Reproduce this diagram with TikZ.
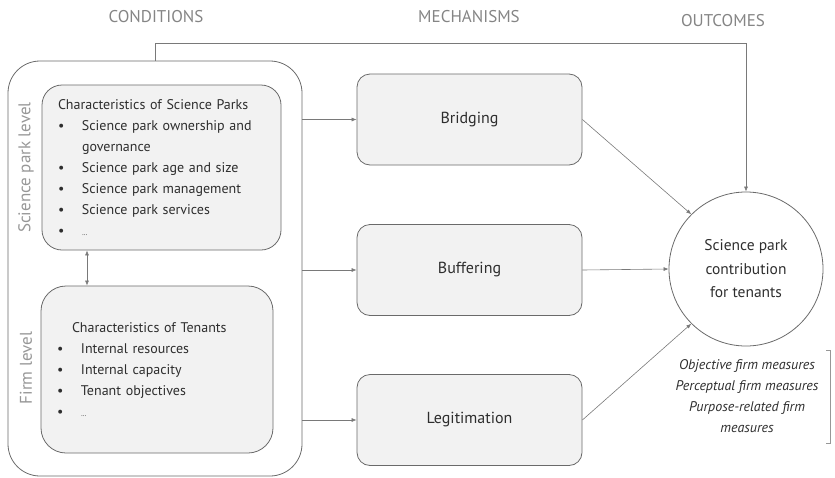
\documentclass[tikz,border=0pt]{standalone}
\usepackage{fontspec}
\setmainfont{PT Sans}
\usepackage{xcolor}
\usepackage{tikz}
\usetikzlibrary{calc}
\usetikzlibrary{arrows.meta}
\definecolor{boxgray}{HTML}{F2F2F2}
\definecolor{linegray}{HTML}{6A6A6A}
\definecolor{textgray}{HTML}{2E2E2E}
\definecolor{headgray}{HTML}{858585}
\newcommand{\itm}[1]{\makebox[24pt][l]{\textbullet}#1}
\newcommand{\etc}{{\scriptsize\ldots}}

\begin{document}
\begin{tikzpicture}[x=1pt, y=-1pt]

		\tikzstyle{head}  = [text=headgray, font=\fontsize{17}{20}\selectfont]
		\tikzstyle{level} = [text=headgray!85, font=\fontsize{17}{20}\selectfont, rotate=90]
		\tikzstyle{group} = [draw=linegray, fill=boxgray, line width=0.8pt, align=left, text=textgray, inner xsep=16pt, font=\fontsize{14}{21}\selectfont]
		\tikzstyle{mech}  = [draw=linegray, fill=boxgray, line width=0.8pt, rounded corners=13pt, minimum width=225pt, minimum height=91pt, text=textgray, font=\fontsize{16}{20}\selectfont]
		\tikzstyle{arr}   = [draw=linegray!90, line width=0.6pt, -{Latex[length=5pt,width=4pt]}]
		\useasboundingbox (0,0) rectangle (835,477);
		\node [head](cond) at (156,17) {CONDITIONS};
		\node [head](mechs) at (469,17) {MECHANISMS};
		\node [head](outc) at (723,21) {OUTCOMES};
		\node [draw=linegray, line width=0.8pt, rounded corners=32pt, minimum width=294pt, minimum height=415pt](outer) at (155,268.5) {};
		\node [level](splevel) at (26,167.5) {Science park level};
		\node [level](firmlevel) at (26,368) {Firm level};
		\node [group, rounded corners=20pt, text width=207pt, minimum height=165pt](sp) at (161.5,167.5) {\mbox{Characteristics of Science Parks}\\
			\itm{Science park ownership and}\\
			\hspace*{24pt}governance\\
			\itm{Science park age and size}\\
			\itm{Science park management}\\
			\itm{Science park services}\\
			\itm{\etc}};
		\node [group, rounded corners=25pt, text width=200pt, minimum height=167pt](ten) at (157,369.5) {\hspace*{15pt}Characteristics of Tenants\\
			\itm{Internal resources}\\
			\itm{Internal capacity}\\
			\itm{Tenant objectives}\\
			\itm{\etc}};
		\node [mech](bridge) at (469.5,119.5) {Bridging};
		\node [mech](buffer) at (469.5,270) {Buffering};
		\node [mech](legit) at (469.5,420) {Legitimation};
		\node [circle, draw=linegray, line width=0.8pt, minimum size=154pt, align=center, text=textgray, font=\fontsize{15.5}{23.5}\selectfont](out) at (746,269) {Science park\\contribution\\for tenants};
		\node [align=center, text=textgray, font=\itshape\fontsize{14}{21}\selectfont](meas) at (747,396) {Objective firm measures\\Perceptual firm measures\\Purpose-related firm\\measures};
		\coordinate (topline) at (746,43);
		\coordinate (dbl) at (87,268);
		\draw [arr] (outer.north) |- (topline) -- (out.north);
		\draw [arr, {Latex[length=5pt,width=4pt]}-{Latex[length=5pt,width=4pt]}] (dbl |- sp.south) -- (dbl |- ten.north);
		\draw [arr] (outer.east |- bridge.west) -- (bridge.west);
		\draw [arr] (outer.east |- buffer.west) -- (buffer.west);
		\draw [arr] (outer.east |- legit.west) -- (legit.west);
		\draw [arr] (bridge.east) -- (out.135);
		\draw [arr] (buffer.east) -- (out.west);
		\draw [arr] (legit.east) -- (out.225);
		\draw [linegray!70, line width=0.6pt] (826,350) -- (830,350) -- (830,443) -- (826,443);
\end{tikzpicture}
\end{document}
